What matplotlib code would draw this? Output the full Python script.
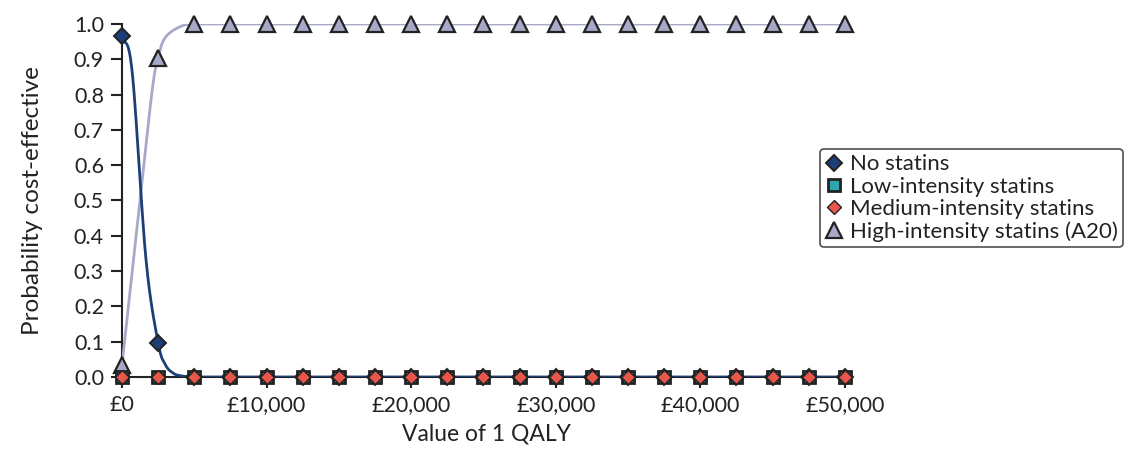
import matplotlib
matplotlib.use("Agg")
import matplotlib.pyplot as plt
import numpy as np
from matplotlib.ticker import FuncFormatter

plt.rcParams['font.family'] = ['Lato', 'DejaVu Sans']

# Data: markers every £2,500
wtp = np.arange(0, 50001, 2500)
no_statins = [0.966, 0.097] + [0.0] * 19
low_int = [0.0] * 21
med_int = [0.0] * 21
high_int = [0.034, 0.905] + [1.0] * 19

# extra points
no_x = [0, 700, 1650, 2500, 3000, 3500, 4000, 5000, 7500, 10000]
no_y = [0.966, 0.866, 0.337, 0.097, 0.035, 0.012, 0.004, 0.0, 0.0, 0.0]
hi_x = [0, 1000, 2050, 2500, 3000, 4000, 5000, 7500, 10000]
hi_y = [0.034, 0.41, 0.80, 0.905, 0.962, 0.992, 1.0, 1.0, 1.0]


def smooth(x, y, n=20):
    # catmull-rom style curve through the points (like Excel smoothed lines)
    x = np.asarray(x, float); y = np.asarray(y, float)
    px = np.concatenate([[2 * x[0] - x[1]], x, [2 * x[-1] - x[-2]]])
    py = np.concatenate([[2 * y[0] - y[1]], y, [2 * y[-1] - y[-2]]])
    outx, outy = [], []
    for i in range(1, len(px) - 2):
        t = np.linspace(0, 1, n, endpoint=False)
        for arr, out in ((px, outx), (py, outy)):
            p0, p1, p2, p3 = arr[i - 1], arr[i], arr[i + 1], arr[i + 2]
            out.extend(0.5 * ((2 * p1) + (-p0 + p2) * t
                              + (2 * p0 - 5 * p1 + 4 * p2 - p3) * t ** 2
                              + (-p0 + 3 * p1 - 3 * p2 + p3) * t ** 3))
    outx.append(x[-1]); outy.append(y[-1])
    return np.array(outx), np.clip(outy, 0, 1)


navy = '#1d3f78'
teal = '#2ba6ad'
red = '#e9574b'
lav = '#a8a9c9'
edge = '#222222'
fs = 15.5

fig = plt.figure(figsize=(11.35, 4.5), dpi=100)
ax = fig.add_axes([122 / 1135, 1 - 377 / 450, 728 / 1135, 353 / 450])

# lines
ax.plot(wtp, low_int, color=teal, lw=2, zorder=2)
ax.plot(wtp, med_int, color=red, lw=2, zorder=2)
sx, sy = smooth(hi_x + list(wtp[4:]), hi_y + high_int[4:])
ax.plot(sx, sy, color=lav, lw=2, zorder=3)
sx, sy = smooth(no_x + list(wtp[4:]), no_y + no_statins[4:])
ax.plot(sx, sy, color=navy, lw=2, zorder=3)

# markers
ax.plot(wtp, no_statins, ls='none', marker='D', ms=8.5, mfc=navy, mec=edge, mew=1.4,
        zorder=5, clip_on=False, label='No statins')
ax.plot(wtp, high_int, ls='none', marker='^', ms=11, mfc=lav, mec=edge, mew=1.6,
        zorder=4, clip_on=False, label='High-intensity statins (A20)')
ax.plot(wtp, low_int, ls='none', marker='s', ms=8.5, mfc=teal, mec=edge, mew=2.0,
        zorder=6, clip_on=False, label='Low-intensity statins')
ax.plot(wtp, med_int, ls='none', marker='D', ms=7, mfc=red, mec=edge, mew=1.0,
        zorder=7, clip_on=False, label='Medium-intensity statins')

ax.set_xlim(0, 50350)
ax.set_ylim(0, 1.0)
ax.set_xticks(np.arange(0, 50001, 10000))
ax.set_yticks(np.arange(0, 1.01, 0.1))
ax.xaxis.set_major_formatter(FuncFormatter(lambda v, p: f'£{int(v):,}'))
ax.yaxis.set_major_formatter(FuncFormatter(lambda v, p: f'{v:.1f}'))
for s in ['top', 'right']:
    ax.spines[s].set_visible(False)
for s in ['left', 'bottom']:
    ax.spines[s].set_linewidth(1.5)
    ax.spines[s].set_color('#222222')
ax.tick_params(length=8, width=1.5, color='#222222', labelsize=fs,
               labelcolor='#222222')
ax.tick_params(axis='x', pad=5)
ax.tick_params(axis='y', pad=5)
ax.set_xlabel('Value of 1 QALY', fontsize=16.5, color='#222222', labelpad=6)
ax.set_ylabel('Probability cost-effective', fontsize=17.5, color='#222222', labelpad=22)

h, l = ax.get_legend_handles_labels()
order = [0, 2, 3, 1]
leg = fig.legend([h[i] for i in order], [l[i] for i in order],
                 loc='center left', bbox_to_anchor=(820 / 1135, 1 - 198 / 450),
                 fontsize=16, frameon=True, fancybox=True, handlelength=0.8,
                 handletextpad=0.3, borderpad=0.25, labelspacing=0.1,
                 borderaxespad=0)
leg.get_frame().set_edgecolor('#222222')
leg.get_frame().set_linewidth(1.2)
for t in leg.get_texts():
    t.set_color('#222222')

fig.savefig('out.png', dpi=100)
